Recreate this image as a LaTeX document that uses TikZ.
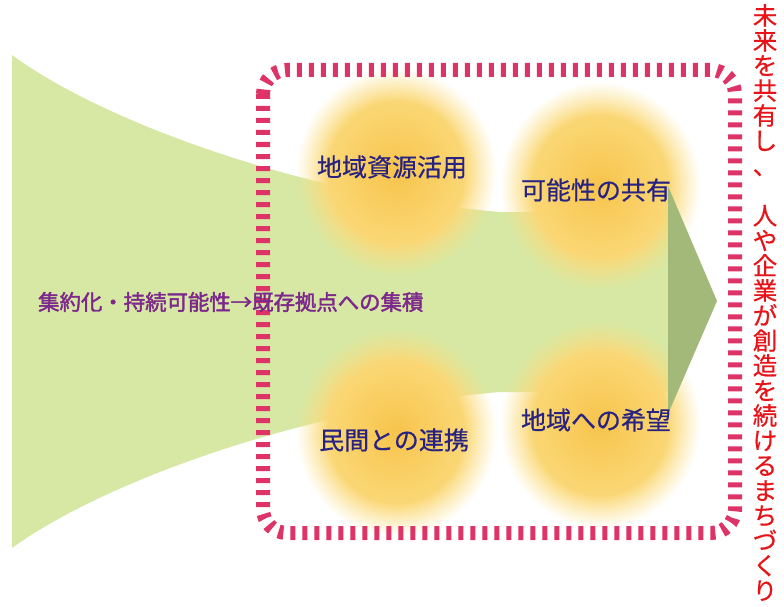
\documentclass[tikz,border=0pt]{standalone}
\usepackage{fontspec}
\newfontfamily\jp[FakeBold=0.5]{Noto Sans CJK JP}
\newfontfamily\jpb[FakeBold=2]{Noto Sans CJK JP}
\usetikzlibrary{fadings}
\definecolor{bandgreen}{RGB}{214,232,163}
\definecolor{headgreen}{RGB}{163,185,122}
\definecolor{dashred}{RGB}{222,51,102}
\definecolor{navytext}{RGB}{40,35,130}
\definecolor{purpletext}{RGB}{125,40,140}
\definecolor{redtext}{RGB}{230,20,25}
\definecolor{orangecore}{RGB}{247,196,76}
\definecolor{yellowrim}{RGB}{252,224,136}
\pgfdeclareradialshading{softcircshade}{\pgfpointorigin}{color(0bp)=(white); color(17bp)=(white); color(25bp)=(black); color(50bp)=(black)}
\pgfdeclarefading{softcirc}{\pgfuseshading{softcircshade}}
\tikzset{
  glow/.style={inner color=orangecore, outer color=yellowrim, path fading=softcirc},
  bluelabel/.style={text=navytext, font=\jp\fontsize{25}{28}\selectfont, inner sep=0pt},
  border/.style={draw=dashred, line width=14pt, dash pattern=on 5pt off 7pt, rounded corners=24pt}
}
\begin{document}
\begin{tikzpicture}[x=1pt,y=-1pt]
\useasboundingbox (0,0) rectangle (784,607);
% funnel / band
\fill[bandgreen] (12,55) .. controls (100,120) and (300,195) .. (500,212) -- (668,212) -- (668,392) -- (500,392) .. controls (300,409) and (100,484) .. (12,548) -- cycle;
% glowing circles
\shade[glow] (396,172) ellipse[x radius=100, y radius=104];
\shade[glow] (600,186) ellipse[x radius=100, y radius=104];
\shade[glow] (396,432) ellipse[x radius=100, y radius=104];
\shade[glow] (600,424) ellipse[x radius=100, y radius=104];
% arrow head
\fill[headgreen] (668,186) -- (717,301) -- (668,414) -- cycle;
% dashed frame
\draw[border] (263,70) rectangle (735,533);
% labels
\node[bluelabel] (c1) at (392,167) {地域資源活用};
\node[bluelabel] (c2) at (596,190) {可能性の共有};
\node[bluelabel] (c3) at (394,440) {民間との連携};
\node[bluelabel] (c4) at (596,420) {地域への希望};
\node[anchor=west, inner sep=0pt, text=purpletext, font=\jpb\fontsize{21.4}{26}\selectfont] (flow) at (38,302) {集約化・持続可能性→既存拠点への集積};
\node[anchor=north, inner sep=0pt, align=center, text=redtext, font=\jp\fontsize{24.5}{25}\selectfont] (goal) at (765,4)
{未\\来\\を\\共\\有\\し\\、\\\mbox{}\\人\\や\\企\\業\\が\\創\\造\\を\\続\\け\\る\\ま\\ち\\づ\\く\\り};
\end{tikzpicture}
\end{document}
